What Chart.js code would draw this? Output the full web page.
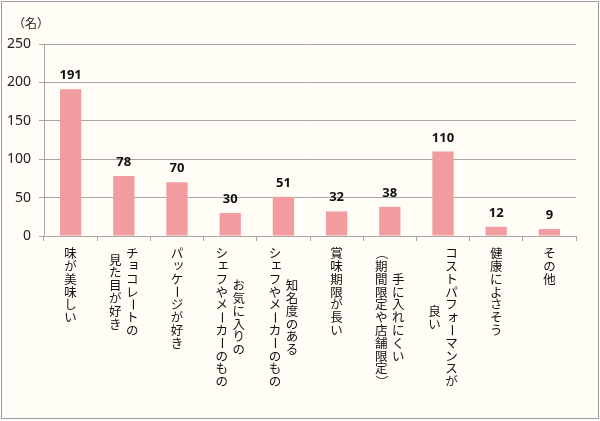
<!DOCTYPE html>
<html>
<head>
<meta charset="utf-8">
<script src="https://cdn.jsdelivr.net/npm/chart.js@4"></script>
<style>
  html, body { margin: 0; padding: 0; background: #fff; }
  canvas { display: block; }
</style>
</head>
<body>
<canvas id="reasonChart" width="600" height="421"></canvas>
<script>
// each category: columns of vertical text, first column is the rightmost
const categories = [
  ['味が美味しい'],
  ['チョコレートの', '見た目が好き'],
  ['パッケージが好き'],
  ['お気に入りの', 'シェフやメーカーのもの'],
  ['知名度のある', 'シェフやメーカーのもの'],
  ['賞味期限が長い'],
  ['手に入れにくい', '（期間限定や店舗限定）'],
  ['コストパフォーマンスが', '良い'],
  ['健康によさそう'],
  ['その他']
];
const counts = [191, 78, 70, 30, 51, 32, 38, 110, 12, 9];
const yMin = 0;
const yMax = 250;
const yStep = 50;
const unitLabel = '（名）';

const jpFont = '"Noto Sans CJK JP", "Noto Sans", sans-serif';
const gridColor = '#a6a6a6';

const smallKana = 'ァィゥェォッャュョぁぃぅぇぉっゃゅょ';
const rotated = 'ー（）()〜';

// background + frame
const framePlugin = {
  id: 'frame',
  beforeDraw(chart) {
    const ctx = chart.ctx;
    ctx.save();
    ctx.fillStyle = '#fffdf6';
    ctx.fillRect(1, 1, 597, 418);
    ctx.strokeStyle = '#9a9a9a';
    ctx.lineWidth = 1;
    ctx.strokeRect(1.5, 1.5, 597, 417);
    ctx.fillStyle = '#222';
    ctx.font = '12px ' + jpFont;
    ctx.textBaseline = 'middle';
    ctx.textAlign = 'left';
    ctx.fillText(unitLabel, 13, 23);
    ctx.restore();
  }
};

// vertical japanese category labels
const verticalLabels = {
  id: 'verticalLabels',
  afterDraw(chart) {
    const ctx = chart.ctx;
    const xs = chart.scales.x;
    const step = 12.8;
    const top = chart.chartArea.bottom + 11;
    const colGap = 17;
    ctx.save();
    ctx.fillStyle = '#111';
    ctx.font = '12.5px ' + jpFont;
    ctx.textAlign = 'center';
    ctx.textBaseline = 'middle';
    chart.data.labels.forEach((cols, i) => {
      const cx = xs.getPixelForValue(i);
      const longest = Math.max(...cols.map(c => c.length));
      cols.forEach((text, j) => {
        const x = cx + ((cols.length - 1) / 2 - j) * colGap;
        const y0 = top + (longest - text.length) * step / 2;
        [...text].forEach((ch, k) => {
          let px = x;
          let py = y0 + k * step + step / 2;
          if (smallKana.includes(ch)) { px += step * 0.12; py -= step * 0.12; }
          if (rotated.includes(ch)) {
            ctx.save();
            ctx.translate(px, py);
            ctx.rotate(Math.PI / 2);
            ctx.fillText(ch, 0, 0);
            ctx.restore();
          } else {
            ctx.fillText(ch, px, py);
          }
        });
      });
    });
    ctx.restore();
  }
};

// value labels above bars
const valueLabels = {
  id: 'valueLabels',
  afterDatasetsDraw(chart) {
    const ctx = chart.ctx;
    const meta = chart.getDatasetMeta(0);
    ctx.save();
    ctx.fillStyle = '#111';
    ctx.font = 'bold 13px "Noto Sans", sans-serif';
    ctx.textAlign = 'center';
    ctx.textBaseline = 'alphabetic';
    meta.data.forEach((bar, i) => {
      ctx.fillText(String(chart.data.datasets[0].data[i]), bar.x, bar.y - 10);
    });
    ctx.restore();
  }
};

new Chart(document.getElementById('reasonChart'), {
  type: 'bar',
  data: {
    labels: categories,
    datasets: [{
      data: counts,
      backgroundColor: '#f29ca0',
      borderWidth: 0,
      barPercentage: 0.4,
      categoryPercentage: 1
    }]
  },
  options: {
    responsive: false,
    animation: false,
    devicePixelRatio: 1,
    layout: { padding: { left: 0, right: 24, top: 44, bottom: 0 } },
    plugins: {
      legend: { display: false },
      tooltip: { enabled: false }
    },
    scales: {
      x: {
        grid: {
          drawOnChartArea: false,
          drawTicks: true,
          tickLength: 5,
          color: gridColor
        },
        border: { color: gridColor },
        ticks: { display: false },
        afterFit(scale) { scale.height = 185; }
      },
      y: {
        min: yMin,
        max: yMax,
        ticks: {
          stepSize: yStep,
          color: '#222',
          padding: 8,
          font: { size: 14, family: '"Noto Sans", sans-serif' }
        },
        grid: { color: gridColor, tickLength: 5 },
        border: { color: gridColor },
        afterFit(scale) { scale.width = 44; }
      }
    }
  },
  plugins: [framePlugin, verticalLabels, valueLabels]
});
</script>
</body>
</html>
